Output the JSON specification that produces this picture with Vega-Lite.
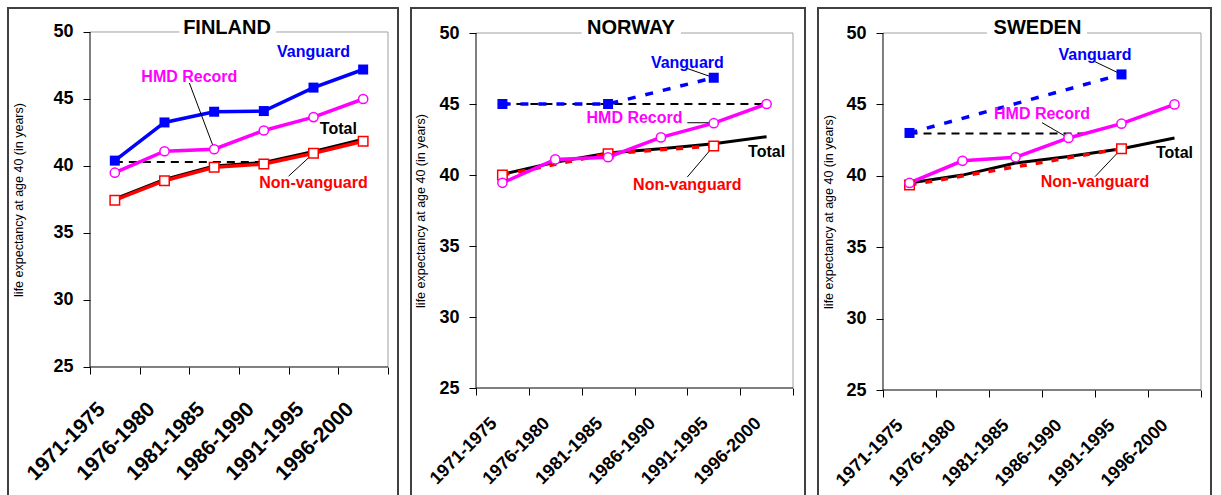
{
  "$schema": "https://vega.github.io/schema/vega-lite/v6.json",
  "padding": {"left": 7, "top": 7, "right": 0, "bottom": 0},
  "bounds": "flush",
  "spacing": 13,
  "config": {
    "font": "Liberation Sans",
    "view": {"stroke": "#404040", "strokeWidth": 2},
    "axis": {"grid": false, "domain": false, "tickColor": "black", "tickSize": 7, "labelColor": "black", "labelFontWeight": "bold", "labelFont": "Liberation Sans", "titleColor": "black", "titleFontWeight": "normal", "titleFont": "Liberation Sans", "titleFontSize": 12.5, "labelOverlap": false, "labelFlush": false},
    "title": {"font": "Liberation Sans", "fontSize": 20, "fontWeight": "bold", "color": "black", "anchor": "middle", "baseline": "alphabetic"},
    "text": {"font": "Liberation Sans", "fontSize": 16, "fontWeight": "bold"}
  },
  "datasets": {
    "blank": [{}],
    "series": [
      {"country": "Finland", "series": "Vanguard", "period": "1971-1975", "value": 40.4},
      {"country": "Finland", "series": "Vanguard", "period": "1976-1980", "value": 43.25},
      {"country": "Finland", "series": "Vanguard", "period": "1981-1985", "value": 44.05},
      {"country": "Finland", "series": "Vanguard", "period": "1986-1990", "value": 44.1},
      {"country": "Finland", "series": "Vanguard", "period": "1991-1995", "value": 45.85},
      {"country": "Finland", "series": "Vanguard", "period": "1996-2000", "value": 47.2},
      {"country": "Finland", "series": "HMD Record", "period": "1971-1975", "value": 39.5},
      {"country": "Finland", "series": "HMD Record", "period": "1976-1980", "value": 41.1},
      {"country": "Finland", "series": "HMD Record", "period": "1981-1985", "value": 41.25},
      {"country": "Finland", "series": "HMD Record", "period": "1986-1990", "value": 42.65},
      {"country": "Finland", "series": "HMD Record", "period": "1991-1995", "value": 43.65},
      {"country": "Finland", "series": "HMD Record", "period": "1996-2000", "value": 45.0},
      {"country": "Finland", "series": "Non-vanguard", "period": "1971-1975", "value": 37.45},
      {"country": "Finland", "series": "Non-vanguard", "period": "1976-1980", "value": 38.9},
      {"country": "Finland", "series": "Non-vanguard", "period": "1981-1985", "value": 39.9},
      {"country": "Finland", "series": "Non-vanguard", "period": "1986-1990", "value": 40.15},
      {"country": "Finland", "series": "Non-vanguard", "period": "1991-1995", "value": 40.95},
      {"country": "Finland", "series": "Non-vanguard", "period": "1996-2000", "value": 41.85},
      {"country": "Finland", "series": "Total", "period": "1971-1975", "value": 37.55},
      {"country": "Finland", "series": "Total", "period": "1976-1980", "value": 39.0},
      {"country": "Finland", "series": "Total", "period": "1981-1985", "value": 40.0},
      {"country": "Finland", "series": "Total", "period": "1986-1990", "value": 40.27},
      {"country": "Finland", "series": "Total", "period": "1991-1995", "value": 41.08},
      {"country": "Finland", "series": "Total", "period": "1996-2000", "value": 42.0},
      {"country": "Norway", "series": "Vanguard", "period": "1971-1975", "value": 45.0},
      {"country": "Norway", "series": "Vanguard", "period": "1981-1985", "value": 45.0},
      {"country": "Norway", "series": "Vanguard", "period": "1991-1995", "value": 46.85},
      {"country": "Norway", "series": "HMD Record", "period": "1971-1975", "value": 39.45},
      {"country": "Norway", "series": "HMD Record", "period": "1976-1980", "value": 41.1},
      {"country": "Norway", "series": "HMD Record", "period": "1981-1985", "value": 41.25},
      {"country": "Norway", "series": "HMD Record", "period": "1986-1990", "value": 42.65},
      {"country": "Norway", "series": "HMD Record", "period": "1991-1995", "value": 43.65},
      {"country": "Norway", "series": "HMD Record", "period": "1996-2000", "value": 45.0},
      {"country": "Norway", "series": "Non-vanguard", "period": "1971-1975", "value": 40.0},
      {"country": "Norway", "series": "Non-vanguard", "period": "1981-1985", "value": 41.5},
      {"country": "Norway", "series": "Non-vanguard", "period": "1991-1995", "value": 42.05},
      {"country": "Norway", "series": "Total", "period": "1971-1975", "value": 40.05},
      {"country": "Norway", "series": "Total", "period": "1976-1980", "value": 40.9},
      {"country": "Norway", "series": "Total", "period": "1981-1985", "value": 41.55},
      {"country": "Norway", "series": "Total", "period": "1986-1990", "value": 41.85},
      {"country": "Norway", "series": "Total", "period": "1991-1995", "value": 42.2},
      {"country": "Norway", "series": "Total", "period": "1996-2000", "value": 42.7},
      {"country": "Sweden", "series": "Vanguard", "period": "1971-1975", "value": 43.0},
      {"country": "Sweden", "series": "Vanguard", "period": "1991-1995", "value": 47.1},
      {"country": "Sweden", "series": "HMD Record", "period": "1971-1975", "value": 39.5},
      {"country": "Sweden", "series": "HMD Record", "period": "1976-1980", "value": 41.05},
      {"country": "Sweden", "series": "HMD Record", "period": "1981-1985", "value": 41.3},
      {"country": "Sweden", "series": "HMD Record", "period": "1986-1990", "value": 42.65},
      {"country": "Sweden", "series": "HMD Record", "period": "1991-1995", "value": 43.65},
      {"country": "Sweden", "series": "HMD Record", "period": "1996-2000", "value": 45.0},
      {"country": "Sweden", "series": "Non-vanguard", "period": "1971-1975", "value": 39.35},
      {"country": "Sweden", "series": "Non-vanguard", "period": "1991-1995", "value": 41.9},
      {"country": "Sweden", "series": "Total", "period": "1971-1975", "value": 39.5},
      {"country": "Sweden", "series": "Total", "period": "1976-1980", "value": 40.05},
      {"country": "Sweden", "series": "Total", "period": "1981-1985", "value": 40.9},
      {"country": "Sweden", "series": "Total", "period": "1986-1990", "value": 41.35},
      {"country": "Sweden", "series": "Total", "period": "1991-1995", "value": 41.9},
      {"country": "Sweden", "series": "Total", "period": "1996-2000", "value": 42.65}
    ],
    "reference": [
      {"country": "Finland", "from": "1971-1975", "to": "1986-1990", "value": 40.3},
      {"country": "Norway", "from": "1971-1975", "to": "1996-2000", "value": 45.0},
      {"country": "Sweden", "from": "1971-1975", "to": "1986-1990", "value": 42.97}
    ],
    "labels": [
      {"country": "Finland", "series": "Vanguard", "period": "1991-1995", "value": 48.53},
      {"country": "Finland", "series": "Non-vanguard", "period": "1991-1995", "value": 38.75},
      {"country": "Finland", "series": "HMD Record", "period": "1976-1980", "value": 46.66},
      {"country": "Finland", "series": "Total", "period": "1991-1995", "value": 42.78},
      {"country": "Norway", "series": "Total", "period": "1996-2000", "value": 41.65},
      {"country": "Norway", "series": "Vanguard", "period": "1986-1990", "value": 47.9},
      {"country": "Norway", "series": "HMD Record", "period": "1981-1985", "value": 44.03},
      {"country": "Norway", "series": "Non-vanguard", "period": "1986-1990", "value": 39.3},
      {"country": "Sweden", "series": "Total", "period": "1996-2000", "value": 41.63},
      {"country": "Sweden", "series": "Vanguard", "period": "1986-1990", "value": 48.49},
      {"country": "Sweden", "series": "HMD Record", "period": "1981-1985", "value": 44.3},
      {"country": "Sweden", "series": "Non-vanguard", "period": "1986-1990", "value": 39.58}
    ],
    "leaders": [
      {"country": "Finland", "series": "HMD Record", "p1": "1976-1980", "v1": 46.2, "p2": "1981-1985", "v2": 41.27},
      {"country": "Finland", "series": "Non-vanguard", "p1": "1986-1990", "v1": 39.25, "p2": "1991-1995", "v2": 40.95},
      {"country": "Norway", "series": "Vanguard", "p1": "1986-1990", "v1": 47.5, "p2": "1991-1995", "v2": 46.85},
      {"country": "Norway", "series": "HMD Record", "p1": "1986-1990", "v1": 43.68, "p2": "1991-1995", "v2": 43.68},
      {"country": "Norway", "series": "Non-vanguard", "p1": "1986-1990", "v1": 39.86, "p2": "1991-1995", "v2": 42.05},
      {"country": "Sweden", "series": "Vanguard", "p1": "1986-1990", "v1": 47.99, "p2": "1991-1995", "v2": 47.1},
      {"country": "Sweden", "series": "HMD Record", "p1": "1981-1985", "v1": 43.72, "p2": "1986-1990", "v2": 42.64},
      {"country": "Sweden", "series": "Non-vanguard", "p1": "1986-1990", "v1": 39.94, "p2": "1991-1995", "v2": 41.9}
    ]
  },
  "hconcat": [
    {
      "width": 390, "height": 494,
      "title": {"text": "FINLAND", "offset": -30, "dx": 24},
      "layer": [
        {"data": {"name": "blank"}, "mark": {"type": "rule", "color": "#a0a0a0", "strokeWidth": 1},
         "encoding": {"x": {"datum": "1971-1975", "type": "ordinal", "bandPosition": 0}, "x2": {"datum": "1996-2000", "bandPosition": 1}, "y": {"datum": 50, "type": "quantitative"}}},
        {"data": {"name": "blank"}, "mark": {"type": "rule", "color": "#a0a0a0", "strokeWidth": 1},
         "encoding": {"x": {"datum": "1996-2000", "type": "ordinal", "bandPosition": 1}, "y": {"datum": 25, "type": "quantitative"}, "y2": {"datum": 50}}},
        {"data": {"name": "blank"}, "mark": {"type": "rule", "color": "black", "strokeWidth": 1},
         "encoding": {"x": {"datum": "1971-1975", "type": "ordinal", "bandPosition": 0}, "y": {"datum": 25, "type": "quantitative"}, "y2": {"datum": 50}}},
        {"data": {"name": "blank"}, "mark": {"type": "rule", "color": "black", "strokeWidth": 1},
         "encoding": {"x": {"datum": "1971-1975", "type": "ordinal", "bandPosition": 0}, "x2": {"datum": "1996-2000", "bandPosition": 1}, "y": {"datum": 25, "type": "quantitative"}}},
        {"data": {"name": "blank"}, "mark": {"type": "rule", "color": "white", "strokeWidth": 4},
         "encoding": {"x": {"datum": "1976-1980", "type": "ordinal", "bandPosition": 0.8}, "x2": {"datum": "1986-1990", "bandPosition": 0.75}, "y": {"datum": 50, "type": "quantitative"}}},
        {"data": {"name": "reference"}, "transform": [{"filter": "datum.country === 'Finland'"}],
         "mark": {"type": "rule", "color": "black", "strokeWidth": 2, "strokeDash": [8, 6]},
         "encoding": {"x": {"field": "from", "type": "ordinal"}, "x2": {"field": "to", "bandPosition": 0.5}, "y": {"field": "value", "type": "quantitative"}}},
        {"data": {"name": "series"}, "transform": [{"filter": "datum.country === 'Finland' && datum.series === 'Total'"}],
         "mark": {"type": "line", "color": "black", "strokeWidth": 3},
         "encoding": {
           "x": {"field": "period", "type": "ordinal",
                 "scale": {"type": "band", "domain": ["1971-1975", "1976-1980", "1981-1985", "1986-1990", "1991-1995", "1996-2000"], "paddingInner": 0, "paddingOuter": 0.9262, "align": 0.8913},
                 "axis": {"title": null, "offset": -135, "tickBand": "extent", "labelAngle": -45, "labelAlign": "right", "labelBaseline": "top", "labelFontSize": 21, "labelPadding": 24, "labelOffset": -21}},
           "y": {"field": "value", "type": "quantitative",
                 "scale": {"domain": [14.925, 51.791], "nice": false, "zero": false},
                 "axis": {"title": "life expectancy at age 40 (in years)", "offset": -82, "values": [25, 30, 35, 40, 45, 50], "labelFontSize": 18, "labelPadding": 10, "titlePadding": 27, "titleY": 191.5}}}},
        {"data": {"name": "series"}, "transform": [{"filter": "datum.country === 'Finland' && datum.series === 'Non-vanguard'"}],
         "mark": {"type": "line", "color": "#ff0000", "strokeWidth": 3.5},
         "encoding": {"x": {"field": "period", "type": "ordinal"}, "y": {"field": "value", "type": "quantitative"}}},
        {"data": {"name": "series"}, "transform": [{"filter": "datum.country === 'Finland' && datum.series === 'HMD Record'"}],
         "mark": {"type": "line", "color": "#ff00ff", "strokeWidth": 3.5},
         "encoding": {"x": {"field": "period", "type": "ordinal"}, "y": {"field": "value", "type": "quantitative"}}},
        {"data": {"name": "series"}, "transform": [{"filter": "datum.country === 'Finland' && datum.series === 'Vanguard'"}],
         "mark": {"type": "line", "color": "#0000ff", "strokeWidth": 3.5},
         "encoding": {"x": {"field": "period", "type": "ordinal"}, "y": {"field": "value", "type": "quantitative"}}},
        {"data": {"name": "leaders"}, "transform": [{"filter": "datum.country === 'Finland'"}],
         "mark": {"type": "rule", "color": "black", "strokeWidth": 1},
         "encoding": {"x": {"field": "p1", "type": "ordinal", "bandPosition": 1}, "x2": {"field": "p2", "bandPosition": 0.5}, "y": {"field": "v1", "type": "quantitative"}, "y2": {"field": "v2"}}},
        {"data": {"name": "series"}, "transform": [{"filter": "datum.country === 'Finland' && datum.series === 'Non-vanguard'"}],
         "mark": {"type": "point", "shape": "square", "filled": true, "fill": "white", "stroke": "#ff0000", "strokeWidth": 1.5, "size": 90, "opacity": 1},
         "encoding": {"x": {"field": "period", "type": "ordinal"}, "y": {"field": "value", "type": "quantitative"}}},
        {"data": {"name": "series"}, "transform": [{"filter": "datum.country === 'Finland' && datum.series === 'HMD Record'"}],
         "mark": {"type": "point", "shape": "circle", "filled": true, "fill": "white", "stroke": "#ff00ff", "strokeWidth": 1.5, "size": 85, "opacity": 1},
         "encoding": {"x": {"field": "period", "type": "ordinal"}, "y": {"field": "value", "type": "quantitative"}}},
        {"data": {"name": "series"}, "transform": [{"filter": "datum.country === 'Finland' && datum.series === 'Vanguard'"}],
         "mark": {"type": "point", "shape": "square", "filled": true, "fill": "#0000ff", "strokeWidth": 0, "size": 100, "opacity": 1},
         "encoding": {"x": {"field": "period", "type": "ordinal"}, "y": {"field": "value", "type": "quantitative"}}},
        {"data": {"name": "labels"}, "transform": [{"filter": "datum.country === 'Finland' && (datum.series === 'Vanguard' || datum.series === 'Non-vanguard')"}],
         "mark": {"type": "text", "align": "center", "baseline": "middle"},
         "encoding": {"x": {"field": "period", "type": "ordinal"}, "y": {"field": "value", "type": "quantitative"}, "text": {"field": "series"},
           "color": {"field": "series", "type": "nominal", "scale": {"domain": ["Vanguard", "HMD Record", "Total", "Non-vanguard"], "range": ["#0000ff", "#ff00ff", "#000000", "#ff0000"]}, "legend": null}}},
        {"data": {"name": "labels"}, "transform": [{"filter": "datum.country === 'Finland' && (datum.series === 'HMD Record' || datum.series === 'Total')"}],
         "mark": {"type": "text", "align": "center", "baseline": "middle"},
         "encoding": {"x": {"field": "period", "type": "ordinal", "bandPosition": 1}, "y": {"field": "value", "type": "quantitative"}, "text": {"field": "series"},
           "color": {"field": "series", "type": "nominal", "legend": null}}}
      ]
    },
    {
      "width": 394, "height": 494,
      "title": {"text": "NORWAY", "offset": -30, "dx": 23},
      "layer": [
        {"data": {"name": "blank"}, "mark": {"type": "rule", "color": "#a0a0a0", "strokeWidth": 1},
         "encoding": {"x": {"datum": "1971-1975", "type": "ordinal", "bandPosition": 0}, "x2": {"datum": "1996-2000", "bandPosition": 1}, "y": {"datum": 50, "type": "quantitative"}}},
        {"data": {"name": "blank"}, "mark": {"type": "rule", "color": "#a0a0a0", "strokeWidth": 1},
         "encoding": {"x": {"datum": "1996-2000", "type": "ordinal", "bandPosition": 1}, "y": {"datum": 25, "type": "quantitative"}, "y2": {"datum": 50}}},
        {"data": {"name": "blank"}, "mark": {"type": "rule", "color": "black", "strokeWidth": 1},
         "encoding": {"x": {"datum": "1971-1975", "type": "ordinal", "bandPosition": 0}, "y": {"datum": 25, "type": "quantitative"}, "y2": {"datum": 50}}},
        {"data": {"name": "blank"}, "mark": {"type": "rule", "color": "black", "strokeWidth": 1},
         "encoding": {"x": {"datum": "1971-1975", "type": "ordinal", "bandPosition": 0}, "x2": {"datum": "1996-2000", "bandPosition": 1}, "y": {"datum": 25, "type": "quantitative"}}},
        {"data": {"name": "blank"}, "mark": {"type": "rule", "color": "white", "strokeWidth": 4},
         "encoding": {"x": {"datum": "1981-1985", "type": "ordinal", "bandPosition": 0}, "x2": {"datum": "1986-1990", "bandPosition": 0.88}, "y": {"datum": 50, "type": "quantitative"}}},
        {"data": {"name": "reference"}, "transform": [{"filter": "datum.country === 'Norway'"}],
         "mark": {"type": "rule", "color": "black", "strokeWidth": 2, "strokeDash": [8, 6]},
         "encoding": {"x": {"field": "from", "type": "ordinal"}, "x2": {"field": "to", "bandPosition": 0.5}, "y": {"field": "value", "type": "quantitative"}}},
        {"data": {"name": "series"}, "transform": [{"filter": "datum.country === 'Norway' && datum.series === 'Total'"}],
         "mark": {"type": "line", "color": "black", "strokeWidth": 3},
         "encoding": {
           "x": {"field": "period", "type": "ordinal",
                 "scale": {"type": "band", "domain": ["1971-1975", "1976-1980", "1981-1985", "1986-1990", "1991-1995", "1996-2000"], "paddingInner": 0, "paddingOuter": 0.7287, "align": 0.8442},
                 "axis": {"title": null, "offset": -114, "tickBand": "extent", "labelAngle": -45, "labelAlign": "right", "labelBaseline": "top", "labelFontSize": 18, "labelPadding": 19, "labelOffset": -15}},
           "y": {"field": "value", "type": "quantitative",
                 "scale": {"domain": [16.972, 51.761], "nice": false, "zero": false},
                 "axis": {"title": "life expectancy at age 40 (in years)", "offset": -65, "values": [25, 30, 35, 40, 45, 50], "labelFontSize": 18, "labelPadding": 10, "titlePadding": 11, "titleY": 202.5}}}},
        {"data": {"name": "series"}, "transform": [{"filter": "datum.country === 'Norway' && datum.series === 'Non-vanguard'"}],
         "mark": {"type": "line", "color": "#ff0000", "strokeWidth": 3.5, "strokeDash": [7, 9]},
         "encoding": {"x": {"field": "period", "type": "ordinal"}, "y": {"field": "value", "type": "quantitative"}}},
        {"data": {"name": "series"}, "transform": [{"filter": "datum.country === 'Norway' && datum.series === 'HMD Record'"}],
         "mark": {"type": "line", "color": "#ff00ff", "strokeWidth": 3.5},
         "encoding": {"x": {"field": "period", "type": "ordinal"}, "y": {"field": "value", "type": "quantitative"}}},
        {"data": {"name": "series"}, "transform": [{"filter": "datum.country === 'Norway' && datum.series === 'Vanguard'"}],
         "mark": {"type": "line", "color": "#0000ff", "strokeWidth": 3.5, "strokeDash": [8, 10]},
         "encoding": {"x": {"field": "period", "type": "ordinal"}, "y": {"field": "value", "type": "quantitative"}}},
        {"data": {"name": "leaders"}, "transform": [{"filter": "datum.country === 'Norway'"}],
         "mark": {"type": "rule", "color": "black", "strokeWidth": 1},
         "encoding": {"x": {"field": "p1", "type": "ordinal", "bandPosition": 1}, "x2": {"field": "p2", "bandPosition": 0.5}, "y": {"field": "v1", "type": "quantitative"}, "y2": {"field": "v2"}}},
        {"data": {"name": "series"}, "transform": [{"filter": "datum.country === 'Norway' && datum.series === 'Non-vanguard'"}],
         "mark": {"type": "point", "shape": "square", "filled": true, "fill": "white", "stroke": "#ff0000", "strokeWidth": 1.5, "size": 90, "opacity": 1},
         "encoding": {"x": {"field": "period", "type": "ordinal"}, "y": {"field": "value", "type": "quantitative"}}},
        {"data": {"name": "series"}, "transform": [{"filter": "datum.country === 'Norway' && datum.series === 'HMD Record'"}],
         "mark": {"type": "point", "shape": "circle", "filled": true, "fill": "white", "stroke": "#ff00ff", "strokeWidth": 1.5, "size": 85, "opacity": 1},
         "encoding": {"x": {"field": "period", "type": "ordinal"}, "y": {"field": "value", "type": "quantitative"}}},
        {"data": {"name": "series"}, "transform": [{"filter": "datum.country === 'Norway' && datum.series === 'Vanguard'"}],
         "mark": {"type": "point", "shape": "square", "filled": true, "fill": "#0000ff", "strokeWidth": 0, "size": 100, "opacity": 1},
         "encoding": {"x": {"field": "period", "type": "ordinal"}, "y": {"field": "value", "type": "quantitative"}}},
        {"data": {"name": "labels"}, "transform": [{"filter": "datum.country === 'Norway' && datum.series === 'Total'"}],
         "mark": {"type": "text", "align": "center", "baseline": "middle"},
         "encoding": {"x": {"field": "period", "type": "ordinal"}, "y": {"field": "value", "type": "quantitative"}, "text": {"field": "series"},
           "color": {"field": "series", "type": "nominal", "scale": {"domain": ["Vanguard", "HMD Record", "Total", "Non-vanguard"], "range": ["#0000ff", "#ff00ff", "#000000", "#ff0000"]}, "legend": null}}},
        {"data": {"name": "labels"}, "transform": [{"filter": "datum.country === 'Norway' && datum.series !== 'Total'"}],
         "mark": {"type": "text", "align": "center", "baseline": "middle"},
         "encoding": {"x": {"field": "period", "type": "ordinal", "bandPosition": 1}, "y": {"field": "value", "type": "quantitative"}, "text": {"field": "series"},
           "color": {"field": "series", "type": "nominal", "legend": null}}}
      ]
    },
    {
      "width": 393, "height": 494,
      "title": {"text": "SWEDEN", "offset": -30, "dx": 23},
      "layer": [
        {"data": {"name": "blank"}, "mark": {"type": "rule", "color": "#a0a0a0", "strokeWidth": 1},
         "encoding": {"x": {"datum": "1971-1975", "type": "ordinal", "bandPosition": 0}, "x2": {"datum": "1996-2000", "bandPosition": 1}, "y": {"datum": 50, "type": "quantitative"}}},
        {"data": {"name": "blank"}, "mark": {"type": "rule", "color": "#a0a0a0", "strokeWidth": 1},
         "encoding": {"x": {"datum": "1996-2000", "type": "ordinal", "bandPosition": 1}, "y": {"datum": 25, "type": "quantitative"}, "y2": {"datum": 50}}},
        {"data": {"name": "blank"}, "mark": {"type": "rule", "color": "black", "strokeWidth": 1},
         "encoding": {"x": {"datum": "1971-1975", "type": "ordinal", "bandPosition": 0}, "y": {"datum": 25, "type": "quantitative"}, "y2": {"datum": 50}}},
        {"data": {"name": "blank"}, "mark": {"type": "rule", "color": "black", "strokeWidth": 1},
         "encoding": {"x": {"datum": "1971-1975", "type": "ordinal", "bandPosition": 0}, "x2": {"datum": "1996-2000", "bandPosition": 1}, "y": {"datum": 25, "type": "quantitative"}}},
        {"data": {"name": "blank"}, "mark": {"type": "rule", "color": "white", "strokeWidth": 4},
         "encoding": {"x": {"datum": "1976-1980", "type": "ordinal", "bandPosition": 0.96}, "x2": {"datum": "1986-1990", "bandPosition": 0.85}, "y": {"datum": 50, "type": "quantitative"}}},
        {"data": {"name": "reference"}, "transform": [{"filter": "datum.country === 'Sweden'"}],
         "mark": {"type": "rule", "color": "black", "strokeWidth": 2, "strokeDash": [8, 6]},
         "encoding": {"x": {"field": "from", "type": "ordinal"}, "x2": {"field": "to", "bandPosition": 0.78}, "y": {"field": "value", "type": "quantitative"}}},
        {"data": {"name": "series"}, "transform": [{"filter": "datum.country === 'Sweden' && datum.series === 'Total'"}],
         "mark": {"type": "line", "color": "black", "strokeWidth": 3},
         "encoding": {
           "x": {"field": "period", "type": "ordinal",
                 "scale": {"type": "band", "domain": ["1971-1975", "1976-1980", "1981-1985", "1986-1990", "1991-1995", "1996-2000"], "paddingInner": 0, "paddingOuter": 0.7075, "align": 0.8667},
                 "axis": {"title": null, "offset": -112, "tickBand": "extent", "labelAngle": -45, "labelAlign": "right", "labelBaseline": "top", "labelFontSize": 18, "labelPadding": 19, "labelOffset": -16}},
           "y": {"field": "value", "type": "quantitative",
                 "scale": {"domain": [17.157, 51.751], "nice": false, "zero": false},
                 "axis": {"title": "life expectancy at age 40 (in years)", "offset": -65, "values": [25, 30, 35, 40, 45, 50], "labelFontSize": 18, "labelPadding": 10, "titlePadding": 10, "titleY": 203.5}}}},
        {"data": {"name": "series"}, "transform": [{"filter": "datum.country === 'Sweden' && datum.series === 'Non-vanguard'"}],
         "mark": {"type": "line", "color": "#ff0000", "strokeWidth": 3.5, "strokeDash": [7, 9]},
         "encoding": {"x": {"field": "period", "type": "ordinal"}, "y": {"field": "value", "type": "quantitative"}}},
        {"data": {"name": "series"}, "transform": [{"filter": "datum.country === 'Sweden' && datum.series === 'HMD Record'"}],
         "mark": {"type": "line", "color": "#ff00ff", "strokeWidth": 3.5},
         "encoding": {"x": {"field": "period", "type": "ordinal"}, "y": {"field": "value", "type": "quantitative"}}},
        {"data": {"name": "series"}, "transform": [{"filter": "datum.country === 'Sweden' && datum.series === 'Vanguard'"}],
         "mark": {"type": "line", "color": "#0000ff", "strokeWidth": 3.5, "strokeDash": [8, 10]},
         "encoding": {"x": {"field": "period", "type": "ordinal"}, "y": {"field": "value", "type": "quantitative"}}},
        {"data": {"name": "leaders"}, "transform": [{"filter": "datum.country === 'Sweden'"}],
         "mark": {"type": "rule", "color": "black", "strokeWidth": 1},
         "encoding": {"x": {"field": "p1", "type": "ordinal", "bandPosition": 1}, "x2": {"field": "p2", "bandPosition": 0.5}, "y": {"field": "v1", "type": "quantitative"}, "y2": {"field": "v2"}}},
        {"data": {"name": "series"}, "transform": [{"filter": "datum.country === 'Sweden' && datum.series === 'Non-vanguard'"}],
         "mark": {"type": "point", "shape": "square", "filled": true, "fill": "white", "stroke": "#ff0000", "strokeWidth": 1.5, "size": 90, "opacity": 1},
         "encoding": {"x": {"field": "period", "type": "ordinal"}, "y": {"field": "value", "type": "quantitative"}}},
        {"data": {"name": "series"}, "transform": [{"filter": "datum.country === 'Sweden' && datum.series === 'HMD Record'"}],
         "mark": {"type": "point", "shape": "circle", "filled": true, "fill": "white", "stroke": "#ff00ff", "strokeWidth": 1.5, "size": 85, "opacity": 1},
         "encoding": {"x": {"field": "period", "type": "ordinal"}, "y": {"field": "value", "type": "quantitative"}}},
        {"data": {"name": "series"}, "transform": [{"filter": "datum.country === 'Sweden' && datum.series === 'Vanguard'"}],
         "mark": {"type": "point", "shape": "square", "filled": true, "fill": "#0000ff", "strokeWidth": 0, "size": 100, "opacity": 1},
         "encoding": {"x": {"field": "period", "type": "ordinal"}, "y": {"field": "value", "type": "quantitative"}}},
        {"data": {"name": "labels"}, "transform": [{"filter": "datum.country === 'Sweden' && datum.series === 'Total'"}],
         "mark": {"type": "text", "align": "center", "baseline": "middle"},
         "encoding": {"x": {"field": "period", "type": "ordinal"}, "y": {"field": "value", "type": "quantitative"}, "text": {"field": "series"},
           "color": {"field": "series", "type": "nominal", "scale": {"domain": ["Vanguard", "HMD Record", "Total", "Non-vanguard"], "range": ["#0000ff", "#ff00ff", "#000000", "#ff0000"]}, "legend": null}}},
        {"data": {"name": "labels"}, "transform": [{"filter": "datum.country === 'Sweden' && datum.series !== 'Total'"}],
         "mark": {"type": "text", "align": "center", "baseline": "middle"},
         "encoding": {"x": {"field": "period", "type": "ordinal", "bandPosition": 1}, "y": {"field": "value", "type": "quantitative"}, "text": {"field": "series"},
           "color": {"field": "series", "type": "nominal", "legend": null}}}
      ]
    }
  ]
}
